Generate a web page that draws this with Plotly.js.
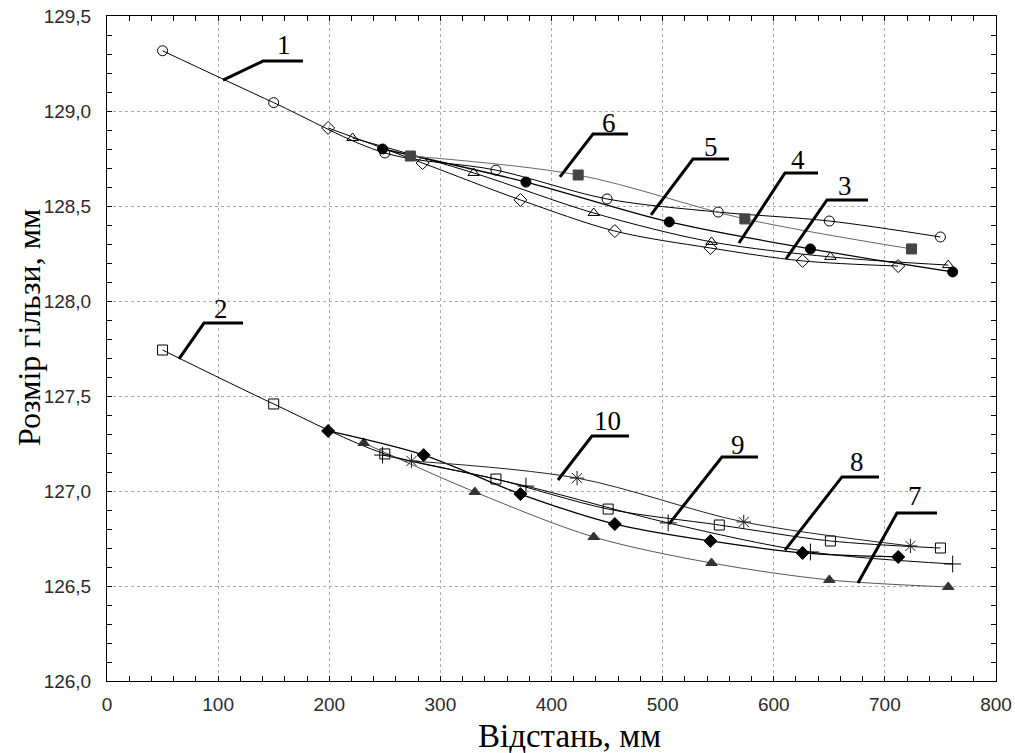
<!DOCTYPE html>
<html>
<head>
<meta charset="utf-8">
<script src="https://cdn.plot.ly/plotly-3.0.1.min.js"></script>
<style>
  html, body { margin: 0; padding: 0; background: #fff; }
  #chart { width: 1015px; height: 753px; }
</style>
</head>
<body>
<div id="chart"></div>
<script>
// ---- Data ----
// Upper group
const s1x = [50, 150, 250, 350, 450, 550, 650, 750];
const s1y = [129.317, 129.044, 128.779, 128.689, 128.537, 128.468, 128.421, 128.337];
const s3x = [199, 284, 372, 457, 543, 626, 712];
const s3y = [128.911, 128.726, 128.532, 128.368, 128.279, 128.211, 128.184];
const s4x = [221, 330, 438, 544, 651, 757];
const s4y = [128.858, 128.674, 128.463, 128.311, 128.232, 128.189];
const s5x = [248, 377, 506, 633, 761];
const s5y = [128.800, 128.626, 128.416, 128.274, 128.153];
const s6x = [273, 424, 574, 724];
const s6y = [128.763, 128.663, 128.432, 128.274];
// Lower group
const s2x = [50, 150, 250, 350, 451, 551, 651, 750];
const s2y = [127.742, 127.458, 127.195, 127.063, 126.905, 126.821, 126.737, 126.700];
const s7x = [231, 331, 438, 544, 650, 757];
const s7y = [127.253, 126.995, 126.758, 126.621, 126.532, 126.495];
const s8x = [199, 285, 372, 457, 543, 626, 712];
const s8y = [127.316, 127.189, 126.984, 126.826, 126.737, 126.674, 126.653];
const s9x = [248, 377, 505, 633, 761];
const s9y = [127.189, 127.026, 126.832, 126.679, 126.616];
const s10x = [274, 423, 573, 723];
const s10y = [127.158, 127.068, 126.837, 126.711];

// Curve labels (number, leader polyline in data units, text position)
const labelNames = ["1", "6", "5", "4", "3", "2", "10", "9", "8", "7"];
const leaderX = [
  [104.4, 140.4, 176.4], [407.6, 437.3, 468.8], [489.5, 527.3, 559.7],
  [568.7, 610.1, 639.8], [611.0, 647.9, 684.8], [64.8, 87.3, 122.4],
  [405.8, 436.4, 469.7], [505.7, 553.4, 585.8], [610.1, 661.4, 694.7],
  [675.8, 710.9, 746.9]
];
const leaderY = [
  [129.163, 129.263, 129.263], [128.653, 128.879, 128.879], [128.453, 128.747, 128.747],
  [128.305, 128.674, 128.674], [128.221, 128.532, 128.532], [127.695, 127.884, 127.884],
  [127.058, 127.289, 127.289], [126.826, 127.179, 127.179], [126.689, 127.074, 127.074],
  [126.516, 126.884, 126.884]
];
const labelTextX = [159.3, 451.7, 543.5, 621.8, 664.1, 102.6, 450.8, 567.8, 674.9, 727.1];
const labelTextY = [129.345, 128.937, 128.811, 128.742, 128.605, 127.958, 127.368, 127.242, 127.153, 126.974];

const xTitle = "Відстань, мм";
const yTitle = "Розмір гільзи, мм";

// ---- Traces ----
function series(x, y, symbol, msize, mcolor, lcolor, lwidth) {
  return {
    x: x, y: y, type: "scatter", mode: "lines+markers",
    line: { shape: "spline", smoothing: 0.9, color: lcolor, width: lwidth },
    marker: { symbol: symbol, size: msize, color: mcolor,
              line: { color: mcolor, width: 1 } },
    showlegend: false, hoverinfo: "x+y"
  };
}

const traces = [
  series(s1x, s1y, "circle-open", 10, "#000", "#000", 1),
  series(s3x, s3y, "diamond-open", 10, "#000", "#000", 1),
  series(s4x, s4y, "triangle-up-open", 10, "#000", "#000", 1),
  series(s5x, s5y, "circle", 10, "#000", "#000", 1.3),
  series(s6x, s6y, "square", 10, "#444", "#666", 1),
  series(s2x, s2y, "square-open", 10, "#000", "#000", 1),
  series(s7x, s7y, "triangle-up", 10, "#333", "#555", 1),
  series(s8x, s8y, "diamond", 10, "#000", "#000", 1.3),
  series(s9x, s9y, "cross-thin-open", 12, "#000", "#000", 1),
  series(s10x, s10y, "asterisk-open", 12, "#222", "#222", 1),
  // empty trace so that the mirrored top/right frame axes are always drawn
  { x: [], y: [], xaxis: "x2", yaxis: "y2", type: "scatter", mode: "markers",
    showlegend: false, hoverinfo: "skip" }
];

const shapes = [];
const annotations = [];
for (let i = 0; i < labelNames.length; i++) {
  const xs = leaderX[i], ys = leaderY[i];
  let p = "M " + xs[0] + "," + ys[0];
  for (let k = 1; k < xs.length; k++) p += " L " + xs[k] + "," + ys[k];
  shapes.push({ type: "path", xref: "x", yref: "y", path: p,
                line: { color: "#000", width: 3 } });
  annotations.push({ x: labelTextX[i], y: labelTextY[i], xref: "x", yref: "y",
                     text: labelNames[i], showarrow: false,
                     xanchor: "center", yanchor: "middle",
                     font: { family: "Liberation Serif, Times New Roman, serif", size: 27, color: "#000" } });
}
// Axis titles as positioned text
const serif = "Liberation Serif, Times New Roman, serif";
annotations.push({ xref: "paper", yref: "paper", x: 0.5205, y: -0.0825,
                   xanchor: "center", yanchor: "middle", showarrow: false,
                   text: xTitle, font: { family: serif, size: 33, color: "#000" } });
annotations.push({ xref: "paper", yref: "paper", x: -0.088, y: 0.532,
                   xanchor: "center", yanchor: "middle", showarrow: false, textangle: -90,
                   text: yTitle, font: { family: serif, size: 32, color: "#000" } });

const tickFont = { family: "Liberation Sans, Arial, sans-serif", size: 19, color: "#2a2a2a" };
const axisCommon = {
  showline: true, linecolor: "#000", linewidth: 1, mirror: false,
  ticks: "inside", ticklen: 5, tickcolor: "#000", tickwidth: 1,
  showgrid: true, gridcolor: "#aaa", gridwidth: 1, griddash: "dot",
  zeroline: false, tickfont: tickFont
};

const layout = {
  width: 1015, height: 753,
  margin: { l: 107, r: 19, t: 16, b: 72 },
  paper_bgcolor: "#fff", plot_bgcolor: "#fff",
  separators: ", ",
  showlegend: false,
  xaxis: Object.assign({}, axisCommon, {
    range: [0, 800], dtick: 100, tick0: 0,
    minor: { dtick: 20, ticks: "inside", ticklen: 5, tickcolor: "#000", showgrid: false },
    ticklabelstandoff: 6
  }),
  yaxis: Object.assign({}, axisCommon, {
    range: [126, 129.5], dtick: 0.5, tick0: 126, tickformat: ".1f",
    minor: { dtick: 0.1, ticks: "inside", ticklen: 5, tickcolor: "#000", showgrid: false },
    ticklabelstandoff: 11
  }),
  xaxis2: {
    overlaying: "x", side: "top", anchor: "y", range: [0, 800], dtick: 100, tick0: 0,
    showline: true, linecolor: "#000", linewidth: 1, showgrid: false, zeroline: false,
    ticks: "inside", ticklen: 5, tickcolor: "#000", showticklabels: false,
    minor: { dtick: 20, ticks: "inside", ticklen: 5, tickcolor: "#000", showgrid: false }
  },
  yaxis2: {
    overlaying: "y", side: "right", anchor: "x", range: [126, 129.5], dtick: 0.5, tick0: 126,
    showline: true, linecolor: "#000", linewidth: 1, showgrid: false, zeroline: false,
    ticks: "inside", ticklen: 5, tickcolor: "#000", showticklabels: false,
    minor: { dtick: 0.1, ticks: "inside", ticklen: 5, tickcolor: "#000", showgrid: false }
  },
  shapes: shapes,
  annotations: annotations
};

Plotly.newPlot("chart", traces, layout, { displayModeBar: false, staticPlot: true });
</script>
</body>
</html>
